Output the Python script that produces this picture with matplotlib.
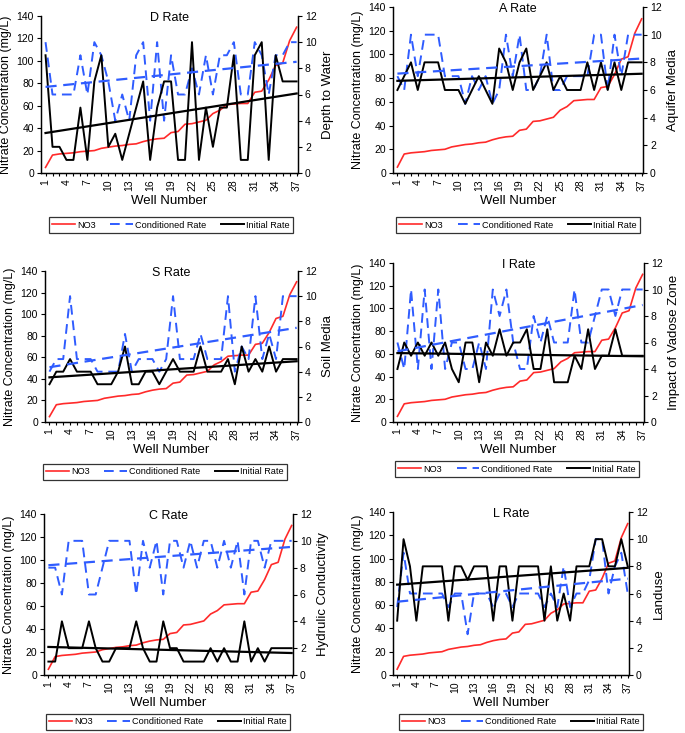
import numpy as np
import matplotlib
matplotlib.use("Agg")
import matplotlib.pyplot as plt
from matplotlib.lines import Line2D

plt.rcParams['font.family'] = ['Liberation Sans', 'DejaVu Sans']

wells = list(range(1, 38))
tick_labels = [str(w) if (w - 1) % 3 == 0 else "" for w in wells]

no3 = [5, 16, 17, 17.5, 18, 19, 19.5, 20, 22, 23, 24, 24.5, 25.5, 26, 28, 29.5, 30.5, 31,
       36, 37, 43.5, 44, 45.5, 47, 53, 56, 61, 61.5, 62, 62, 72, 73, 83, 96, 98, 118, 130]

d_cond = [10, 6, 6, 6, 6, 9, 6, 10, 9, 7, 4, 6, 4, 9, 10, 4, 10, 4, 9, 6, 6, 8, 6, 9, 6, 9, 9, 10, 6, 6, 10, 9, 6, 9, 9, 10, 10]
d_init = [9, 2, 2, 1, 1, 5, 1, 7, 9, 2, 3, 1, 3, 5, 7, 1, 5, 7, 7, 1, 1, 10, 1, 5, 2, 5, 5, 9, 1, 1, 9, 10, 1, 9, 7, 7, 7]

a_cond = [7, 6, 10, 7, 10, 10, 10, 7, 7, 7, 5, 7, 6, 7, 5, 6, 10, 7, 10, 6, 6, 7, 10, 6, 6, 7, 7, 7, 7, 10, 10, 6, 10, 7, 10, 10, 10]
a_init = [6, 7, 8, 6, 8, 8, 8, 6, 6, 6, 5, 6, 7, 6, 5, 9, 8, 6, 8, 9, 6, 7, 8, 6, 7, 6, 6, 6, 8, 6, 8, 6, 8, 6, 8, 8, 8]

s_cond = [4, 5, 5, 10, 5, 5, 5, 4, 4, 4, 4, 7, 4, 5, 5, 5, 4, 5, 10, 5, 5, 5, 7, 5, 5, 5, 10, 4, 6, 5, 10, 5, 7, 5, 10, 10, 10]
s_init = [3, 4, 4, 5, 4, 4, 4, 3, 3, 3, 4, 6, 3, 3, 4, 4, 3, 4, 5, 4, 4, 4, 6, 4, 4, 4, 5, 3, 6, 4, 5, 4, 6, 4, 5, 5, 5]

i_cond = [6, 4, 10, 4, 10, 4, 10, 4, 6, 6, 4, 4, 6, 4, 10, 8, 10, 6, 4, 4, 8, 6, 8, 6, 6, 6, 10, 6, 6, 8, 10, 10, 8, 10, 10, 10, 10]
i_init = [4, 6, 5, 6, 5, 6, 5, 6, 4, 3, 6, 6, 3, 6, 5, 7, 5, 6, 6, 7, 4, 4, 7, 3, 3, 3, 5, 4, 7, 4, 5, 5, 7, 5, 5, 5, 5]

c_cond = [8, 8, 6, 10, 10, 10, 6, 6, 8, 10, 10, 10, 10, 6, 10, 8, 10, 6, 10, 10, 8, 10, 8, 10, 10, 8, 10, 8, 10, 6, 10, 10, 8, 10, 10, 10, 10]
c_init = [1, 1, 4, 2, 2, 2, 4, 2, 1, 1, 2, 2, 2, 4, 2, 1, 1, 4, 2, 2, 1, 1, 1, 1, 2, 1, 2, 1, 1, 4, 1, 2, 1, 2, 2, 2, 2]

l_cond = [5, 9, 6, 6, 6, 6, 6, 6, 5, 6, 6, 3, 6, 6, 6, 5, 6, 6, 5, 6, 6, 6, 6, 5, 6, 5, 8, 5, 6, 6, 7, 10, 10, 6, 8, 9, 6]
l_init = [4, 10, 8, 4, 8, 8, 8, 8, 4, 8, 8, 7, 8, 8, 8, 4, 8, 8, 4, 8, 8, 8, 8, 4, 8, 4, 6, 4, 8, 8, 8, 10, 10, 8, 8, 10, 8]

titles = ["D Rate", "A Rate", "S Rate", "I Rate", "C Rate", "L Rate"]
right_labels = ["Depth to Water", "Aquifer Media", "Soil Media", "Impact of Vadose Zone",
                "Hydrulic Conductivity", "Landuse"]
conds = [d_cond, a_cond, s_cond, i_cond, c_cond, l_cond]
inits = [d_init, a_init, s_init, i_init, c_init, l_init]

W, H = 685, 733
# pixel boxes: x0, x1, ytop, ybottom
boxes = [(41, 298, 16, 173), (393, 643, 7, 173),
         (45, 298, 271, 422), (393, 644, 263, 422),
         (44, 293, 514, 675), (393, 629, 512, 675)]
legend_centers = [(171, 225), (518, 225), (165, 472), (517, 469), (168, 722), (521, 722)]

RED = '#ff2a2a'
BLUE = '#2f5cff'

fig = plt.figure(figsize=(W / 100, H / 100), dpi=100)

for k in range(6):
    x0, x1, yt, yb = boxes[k]
    ax = fig.add_axes([x0 / W, (H - yb) / H, (x1 - x0) / W, (yb - yt) / H])
    ax2 = ax.twinx()
    x = np.array(wells)
    ax.plot(x, no3, color=RED, lw=1.2, zorder=3)
    ax.set_ylim(0, 140)
    ax.set_yticks(range(0, 141, 20))
    ax.set_xlim(0.35, 37.2)
    ax.set_xticks(wells)
    ax.set_xticklabels(tick_labels, rotation=90, fontsize=7.5)
    ax.tick_params(axis='x', length=2.5, width=0.8, pad=2)
    ax.tick_params(axis='y', labelsize=7.5, length=3, width=0.8, pad=2)
    ax.set_ylabel("Nitrate Concentration (mg/L)", fontsize=9, labelpad=3)
    ax.set_xlabel("Well Number", fontsize=9.5, labelpad=3)

    cond = np.array(conds[k], dtype=float)
    init = np.array(inits[k], dtype=float)
    ax2.plot(x, cond, color=BLUE, lw=1.4, dashes=(5, 3))
    ax2.plot(x, init, color='black', lw=1.4)
    pc = np.polyfit(x, cond, 1)
    pi = np.polyfit(x, init, 1)
    ax2.plot(x, np.polyval(pc, x), color=BLUE, lw=1.6, dashes=(5, 3))
    ax2.plot(x, np.polyval(pi, x), color='black', lw=1.6)
    ax2.set_ylim(0, 12)
    ax2.set_yticks(range(0, 13, 2))
    ax2.tick_params(axis='y', labelsize=7.5, length=3, width=0.8, pad=2)
    ax2.set_ylabel(right_labels[k], fontsize=9.5, labelpad=4)

    for a in (ax, ax2):
        a.spines['top'].set_visible(False)
        for s in ('left', 'right', 'bottom'):
            a.spines[s].set_linewidth(0.9)
    ax.text(0.5, 1.0 - 2 / (yb - yt), titles[k], transform=ax.transAxes, ha='center', va='center',
            fontsize=9, zorder=10)

    handles = [Line2D([], [], color=RED, lw=1.2),
               Line2D([], [], color=BLUE, lw=1.4, dashes=(5, 3)),
               Line2D([], [], color='black', lw=1.4)]
    cx, cy = legend_centers[k]
    leg = ax.legend(handles, ["NO3", "Conditioned Rate", "Initial Rate"], ncol=3,
                    loc='center', bbox_to_anchor=(cx / W, 1 - cy / H),
                    bbox_transform=fig.transFigure, fontsize=6.6, frameon=True,
                    fancybox=False, edgecolor='black', handlelength=2.5,
                    handletextpad=0.2, columnspacing=1.6, borderpad=0.35)
    leg.get_frame().set_linewidth(0.9)

fig.savefig("out.png", dpi=100)
